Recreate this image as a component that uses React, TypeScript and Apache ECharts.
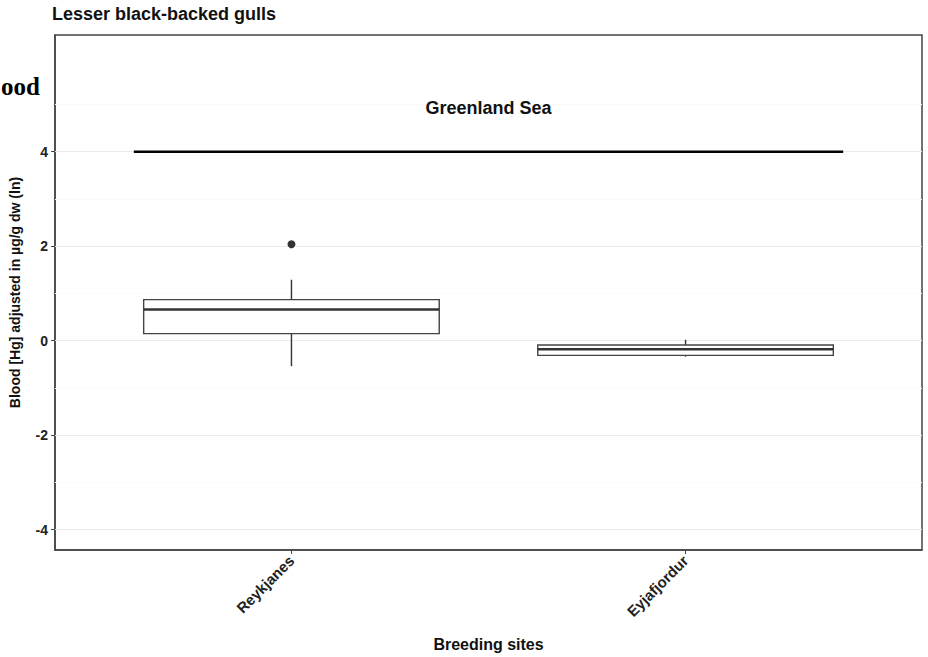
import React, { useEffect, useRef } from "react";
import * as echarts from "echarts";

const sites = ["Reykjanes", "Eyjafjordur"];
const sitePositions = [1, 2];
const lowerWhisker = [-0.54, -0.34];
const q1 = [0.15, -0.31];
const median = [0.66, -0.18];
const q3 = [0.87, -0.09];
const upperWhisker = [1.29, 0.02];
const outliers: [number, number][] = [[1, 2.04]];
const yTicks = [-4, -2, 0, 2, 4];
const yMinor = [-3, -1, 1, 3, 5];
const refLineY = 4;
const refLineX = [0.6, 2.4];
const annotationText = "Greenland Sea";
const annotationPos: [number, number] = [1.5, 4.92];

const FONT = "'Liberation Sans', Arial, Helvetica, sans-serif";

export default function App() {
  const ref = useRef<HTMLDivElement>(null);
  useEffect(() => {
    if (!ref.current) return;
    const chart = echarts.init(ref.current, null, { renderer: "svg" });
    const boxData = sites.map((_, i) => [
      sitePositions[i],
      lowerWhisker[i],
      q1[i],
      median[i],
      q3[i],
      upperWhisker[i],
    ]);
    const option: any = {
      animation: false,
      backgroundColor: "#fff",
      textStyle: { fontFamily: FONT },
      title: {
        text: "Lesser black-backed gulls",
        left: 47,
        top: 0,
        textStyle: { fontFamily: FONT, fontSize: 18, fontWeight: "bold", color: "#111" },
      },
      graphic: [
        {
          type: "text",
          right: 888,
          top: 74,
          style: {
            text: "ood",
            fontFamily: "'Liberation Serif', 'Times New Roman', serif",
            fontWeight: "bold",
            fontSize: 25,
            fill: "#000",
          },
        },
      ],
      grid: {
        left: 52,
        right: 6,
        top: 35,
        bottom: 105,
        show: true,
        borderColor: "#444",
        borderWidth: 1.5,
        backgroundColor: "#fff",
      },
      xAxis: {
        type: "value",
        min: 0.4,
        max: 2.6,
        name: "Breeding sites",
        nameLocation: "middle",
        nameGap: 86,
        nameTextStyle: { fontFamily: FONT, fontSize: 16, fontWeight: "bold", color: "#111" },
        axisLine: { show: true, onZero: false, lineStyle: { color: "#444", width: 1.5 } },
        axisTick: { show: true, customValues: sitePositions, length: 4, lineStyle: { color: "#444" } },
        axisLabel: {
          customValues: sitePositions,
          rotate: 45,
          margin: 8,
          fontFamily: FONT,
          fontSize: 15,
          fontWeight: "bold",
          color: "#222",
          formatter: (v: number) => sites[sitePositions.indexOf(v)] ?? "",
        },
        splitLine: { show: false },
      },
      yAxis: {
        type: "value",
        min: -4.43,
        max: 6.47,
        name: "Blood [Hg] adjusted in µg/g dw (ln)",
        nameLocation: "middle",
        nameGap: 33,
        nameTextStyle: { fontFamily: FONT, fontSize: 14, fontWeight: "bold", color: "#111" },
        axisLine: { show: true, onZero: false, lineStyle: { color: "#444", width: 1.5 } },
        axisTick: { show: true, customValues: yTicks, length: 4, lineStyle: { color: "#444" } },
        axisLabel: {
          customValues: yTicks,
          margin: 7,
          fontFamily: FONT,
          fontSize: 14,
          fontWeight: "bold",
          color: "#222",
        },
        splitLine: { show: false },
      },
      series: [
        {
          type: "line",
          data: [],
          z: 1,
          silent: true,
          markLine: {
            silent: true,
            z: 1,
            symbol: "none",
            label: { show: false },
            data: [
              ...yMinor.map((v) => ({ yAxis: v, lineStyle: { color: "#fafafa", width: 1, type: "solid" } })),
              ...yTicks.map((v) => ({ yAxis: v, lineStyle: { color: "#ebebeb", width: 1.2, type: "solid" } })),
            ],
          },
        },
        {
          type: "custom",
          z: 10,
          silent: true,
          data: [[refLineX[0], refLineX[1], refLineY, annotationPos[0], annotationPos[1]]],
          encode: { x: [0, 1, 3], y: [2, 4] },
          renderItem: (params: any, api: any) => {
            const a = api.coord([api.value(0), api.value(2)]);
            const b = api.coord([api.value(1), api.value(2)]);
            const t = api.coord([api.value(3), api.value(4)]);
            return {
              type: "group",
              children: [
                {
                  type: "line",
                  shape: { x1: a[0], y1: a[1], x2: b[0], y2: b[1] },
                  style: { stroke: "#000", lineWidth: 2.6, fill: null },
                },
                {
                  type: "text",
                  x: t[0],
                  y: t[1],
                  style: {
                    text: annotationText,
                    fontFamily: FONT,
                    fontSize: 18,
                    fontWeight: "bold",
                    fill: "#111",
                    align: "center",
                    verticalAlign: "middle",
                  },
                },
              ],
            };
          },
        },
        {
          type: "custom",
          z: 11,
          silent: true,
          data: boxData,
          encode: { x: 0, y: [1, 2, 3, 4, 5] },
          renderItem: (params: any, api: any) => {
            const x = api.value(0);
            const pLo = api.coord([x, api.value(1)]);
            const pQ1 = api.coord([x, api.value(2)]);
            const pMed = api.coord([x, api.value(3)]);
            const pQ3 = api.coord([x, api.value(4)]);
            const pHi = api.coord([x, api.value(5)]);
            const half = api.size([0.75, 0])[0] / 2;
            const cx = pMed[0];
            const stroke = "#333";
            return {
              type: "group",
              children: [
                { type: "line", shape: { x1: cx, y1: pHi[1], x2: cx, y2: pQ3[1] }, style: { stroke, lineWidth: 1.4 } },
                { type: "line", shape: { x1: cx, y1: pQ1[1], x2: cx, y2: pLo[1] }, style: { stroke, lineWidth: 1.4 } },
                {
                  type: "rect",
                  shape: { x: cx - half, y: pQ3[1], width: half * 2, height: pQ1[1] - pQ3[1] },
                  style: { fill: "#fff", stroke: "#444", lineWidth: 1.4 },
                },
                {
                  type: "line",
                  shape: { x1: cx - half, y1: pMed[1], x2: cx + half, y2: pMed[1] },
                  style: { stroke, lineWidth: 2.6 },
                },
              ],
            };
          },
        },
        {
          type: "scatter",
          z: 12,
          silent: true,
          symbol: "circle",
          symbolSize: 8,
          itemStyle: { color: "#333", opacity: 1 },
          data: outliers,
        },
      ],
    };
    chart.setOption(option);
    return () => chart.dispose();
  }, []);
  return (
    <div
      ref={ref}
      style={{ position: "absolute", left: 0, top: 0, width: 928, height: 657 }}
    />
  );
}
